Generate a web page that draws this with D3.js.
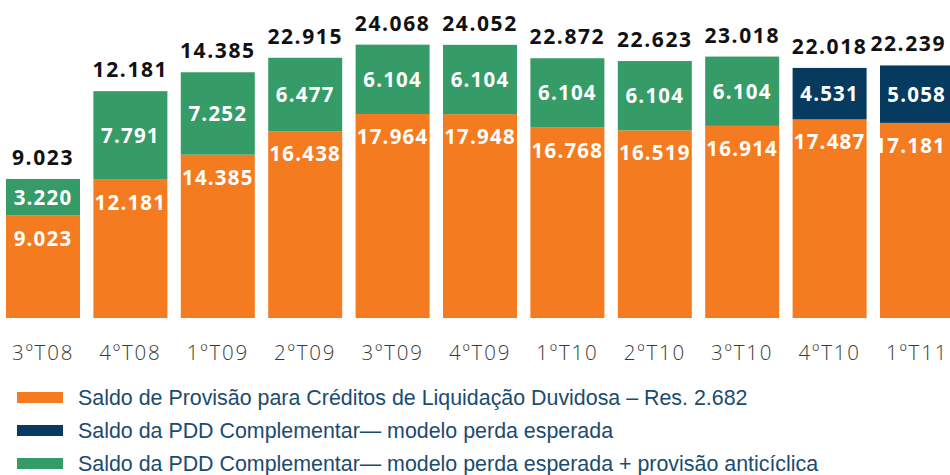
<!DOCTYPE html>
<html>
<head>
<meta charset="utf-8">
<script src="https://cdn.jsdelivr.net/npm/d3@7"></script>
<style>
  html, body { margin: 0; padding: 0; background: #fff; }
  svg { display: block; }
</style>
</head>
<body>
<svg id="chart" width="950" height="475"></svg>
<script>
// ---- data ----
const categories = ["3ºT08","4ºT08","1ºT09","2ºT09","3ºT09","4ºT09","1ºT10","2ºT10","3ºT10","4ºT10","1ºT11"];
const provisao   = [9.023, 12.181, 14.385, 16.438, 17.964, 17.948, 16.768, 16.519, 16.914, 17.487, 17.181];
const pddEsperada = [0, 0, 0, 0, 0, 0, 0, 0, 0, 4.531, 5.058];
const pddAnticiclica = [3.220, 7.791, 7.252, 6.477, 6.104, 6.104, 6.104, 6.104, 6.104, 0, 0];
const topLabels = ["9.023","12.181","14.385","22.915","24.068","24.052","22.872","22.623","23.018","22.018","22.239"];
const seriesNames = [
  "Saldo de Provisão para Créditos de Liquidação Duvidosa – Res. 2.682",
  "Saldo da PDD Complementar— modelo perda esperada",
  "Saldo da PDD Complementar— modelo perda esperada + provisão anticíclica"
];
const colors = ["#F47B20", "#063A5E", "#359B67"];

// ---- build ----
const W = 950;
const svg = d3.select("#chart");
const x = d3.scaleBand().domain(categories).range([6, 954]).paddingInner(13.4/87.4).paddingOuter(0);
const y = d3.scaleLinear().domain([0, 28]).range([318, 0]);

const rows = categories.map((c, i) => ({cat: c, prov: provisao[i], esp: pddEsperada[i], anti: pddAnticiclica[i], top: topLabels[i]}));
const stack = d3.stack().keys(["prov", "esp", "anti"]);
const stacked = stack(rows);

const g = svg.append("g");
stacked.forEach((layer, li) => {
  g.selectAll(null).data(layer.filter(d => d[1] - d[0] > 0)).enter().append("rect")
    .attr("x", d => x(d.data.cat))
    .attr("width", x.bandwidth())
    .attr("y", d => y(d[1]))
    .attr("height", d => y(d[0]) - y(d[1]))
    .attr("fill", colors[li]);
});

const fmt = v => v.toFixed(3);
const labelFont = "'Open Sans', sans-serif";
const cx = d => x(d.cat) + x.bandwidth()/2;

// keep labels inside the visible width
function clampX(sel) {
  sel.each(function() {
    const t = d3.select(this);
    const w = this.getComputedTextLength();
    const c = +t.attr("x");
    if (c + w/2 > W - 4) t.attr("x", W - 4 - w/2);
  });
}

// orange labels (near top of orange segment)
g.selectAll(null).data(rows).enter().append("text")
  .attr("x", cx)
  .attr("y", d => y(d.prov) + 30)
  .attr("text-anchor", "middle")
  .attr("fill", "#fff")
  .attr("font-family", labelFont).attr("font-weight", 700)
  .attr("font-size", 20.5).attr("letter-spacing", "1.2px")
  .text(d => fmt(d.prov))
  .call(clampX);

// upper segment labels (centered)
g.selectAll(null).data(rows).enter().append("text")
  .attr("x", cx)
  .attr("y", d => {
    const v = d.esp + d.anti;
    return (y(d.prov) + y(d.prov + v))/2 + 7.5;
  })
  .attr("text-anchor", "middle")
  .attr("fill", "#fff")
  .attr("font-family", labelFont).attr("font-weight", 700)
  .attr("font-size", 20.5).attr("letter-spacing", "1.2px")
  .text(d => fmt(d.esp + d.anti))
  .call(clampX);

// top labels
g.selectAll(null).data(rows).enter().append("text")
  .attr("x", cx)
  .attr("y", d => y(d.prov + d.esp + d.anti) - 14)
  .attr("text-anchor", "middle")
  .attr("fill", "#111")
  .attr("font-family", labelFont).attr("font-weight", 700)
  .attr("font-size", 21).attr("letter-spacing", "1.6px")
  .text(d => d.top)
  .call(clampX);

// x axis
const xAxis = svg.append("g").attr("transform", "translate(0,318)")
  .call(d3.axisBottom(x).tickSize(0).tickPadding(0));
xAxis.select(".domain").remove();
xAxis.selectAll("text")
  .attr("y", 42).attr("dy", null)
  .attr("fill", "#3a3a3a")
  .attr("font-family", labelFont).attr("font-weight", 300)
  .attr("font-size", 20.5).attr("letter-spacing", "1.8px");

// legend
const leg = svg.append("g");
seriesNames.forEach((name, i) => {
  const yy = 405 + i * 33;
  leg.append("rect").attr("x", 17).attr("y", yy - 13).attr("width", 46).attr("height", 11).attr("fill", colors[i]);
  leg.append("text").attr("x", 78).attr("y", yy)
    .attr("fill", "#1B4B6E")
    .attr("font-family", "'Liberation Sans', Arial, sans-serif")
    .attr("font-size", 21.4)
    .text(name);
});
</script>
</body>
</html>
